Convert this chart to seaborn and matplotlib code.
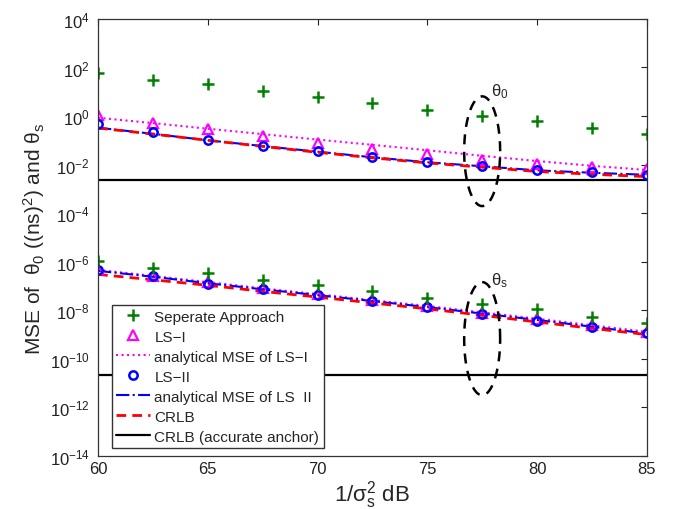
import numpy as np
import pandas as pd
import matplotlib
matplotlib.use("Agg")
import matplotlib.pyplot as plt
import seaborn as sns

# SNR axis (1/sigma_s^2 in dB)
snr = [60, 62.5, 65, 67.5, 70, 72.5, 75, 77.5, 80, 82.5, 85]

# theta_0 curves (ns^2)
sep_t0 = [60, 31, 20, 10.5, 6.2, 3.4, 1.85, 1.05, 0.63, 0.33, 0.19]
ls1_t0 = [1.15, 0.52, 0.28, 0.145, 0.076, 0.045, 0.028, 0.016, 0.011, 0.0083, 0.0063]
ls1_ana_t0 = [0.85, 0.51, 0.30, 0.18, 0.107, 0.065, 0.039, 0.023, 0.014, 0.0089, 0.006]
ls2_t0 = [0.49, 0.21, 0.107, 0.061, 0.036, 0.021, 0.0126, 0.0087, 0.0058, 0.0049, 0.0039]
ls2_ana_t0 = [0.33, 0.185, 0.10, 0.058, 0.034, 0.020, 0.0125, 0.0085, 0.0058, 0.0046, 0.0038]
crlb_t0 = [0.32, 0.18, 0.10, 0.056, 0.032, 0.019, 0.0117, 0.0078, 0.0052, 0.0040, 0.0032]
crlb_anchor_t0 = 2.3e-3

# theta_s curves
sep_ts = [1.07e-6, 5.6e-7, 3.5e-7, 1.8e-7, 1.07e-7, 6e-8, 3.2e-8, 1.9e-8, 1.1e-8, 5.5e-9, 3.1e-9]
ls1_ts = [4.8e-7, 2.7e-7, 1.5e-7, 8e-8, 4.6e-8, 2.7e-8, 1.5e-8, 8e-9, 4.2e-9, 2.4e-9, 1.3e-9]
ls1_ana_ts = [4.6e-7, 2.6e-7, 1.45e-7, 8e-8, 4.6e-8, 2.6e-8, 1.5e-8, 8.2e-9, 4.5e-9, 2.4e-9, 1.3e-9]
ls2_ts = [4.4e-7, 2.5e-7, 1.2e-7, 7.2e-8, 4.3e-8, 2.5e-8, 1.35e-8, 7e-9, 3.6e-9, 2.1e-9, 1.13e-9]
ls2_ana_ts = [4.2e-7, 2.4e-7, 1.3e-7, 7.3e-8, 4.2e-8, 2.4e-8, 1.35e-8, 7.3e-9, 4e-9, 2.1e-9, 1.1e-9]
crlb_ts = [3e-7, 1.8e-7, 1.07e-7, 6e-8, 3.5e-8, 2e-8, 1.15e-8, 6.2e-9, 3.3e-9, 1.8e-9, 1e-9]
crlb_anchor_ts = 2.2e-11

sns.set_style("white")
plt.rcParams["font.family"] = ["Liberation Sans", "DejaVu Sans"]
plt.rcParams["mathtext.fontset"] = "custom"
plt.rcParams["mathtext.rm"] = "Liberation Sans"
plt.rcParams["mathtext.it"] = "Liberation Sans:italic"
plt.rcParams["mathtext.sf"] = "Liberation Sans"

fig = plt.figure(figsize=(6.78, 5.10), dpi=100)
ax = fig.add_axes([0.1445, 0.104, 0.8095, 0.857])

styles = {
    "sep": dict(marker="+", linestyle="", color="green", mec="green", markersize=8, mew=1.8),
    "ls1": dict(marker="^", linestyle="", color="magenta", mfc="none", mec="magenta", markersize=7, mew=1.6),
    "ls1_ana": dict(linestyle=":", color="magenta", lw=1.5),
    "ls2": dict(marker="o", linestyle="", color="blue", mfc="none", mec="blue", markersize=6, mew=1.8),
    "ls2_ana": dict(linestyle="-.", color="blue", lw=1.5),
    "crlb": dict(linestyle=(0, (3.5, 2.2)), color="red", lw=2),
    "anchor": dict(linestyle="-", color="black", lw=1.6),
}
labels = {
    "sep": "Seperate Approach",
    "ls1": "LS\u2212I",
    "ls1_ana": "analytical MSE of LS\u2212I",
    "ls2": "LS\u2212II",
    "ls2_ana": "analytical MSE of LS  II",
    "crlb": "CRLB",
    "anchor": "CRLB (accurate anchor)",
}

groups = [
    dict(sep=sep_t0, ls1=ls1_t0, ls1_ana=ls1_ana_t0, ls2=ls2_t0, ls2_ana=ls2_ana_t0,
         crlb=crlb_t0, anchor=[crlb_anchor_t0] * len(snr)),
    dict(sep=sep_ts, ls1=ls1_ts, ls1_ana=ls1_ana_ts, ls2=ls2_ts, ls2_ana=ls2_ana_ts,
         crlb=crlb_ts, anchor=[crlb_anchor_ts] * len(snr)),
]

order = ["anchor", "ls1_ana", "ls2_ana", "crlb", "ls1", "ls2", "sep"]
handles = {}
for gi, g in enumerate(groups):
    for key in order:
        n_before = len(ax.lines)
        sns.lineplot(x=snr, y=g[key], ax=ax, errorbar=None, legend=False, **styles[key])
        if gi == 0:
            handles[key] = ax.lines[n_before]

# dashed ellipses around each group
t = np.linspace(0, 2 * np.pi, 200)
for cy, hh in [(-1.45, 2.26), (-9.17, 2.33)]:
    ax.plot(77.5 + 0.82 * np.cos(t), 10 ** (cy + hh * np.sin(t)),
            color="black", lw=1.8, linestyle=(0, (4, 3)))
ax.text(77.9, 10 ** 0.85, r"$\mathrm{\theta_0}$", fontsize=12)
ax.text(77.9, 10 ** -6.95, r"$\mathrm{\theta_s}$", fontsize=12)

ax.set_yscale("log")
ax.set_xlim(60, 85)
ax.set_ylim(1e-14, 1e4)
ax.set_xticks([60, 65, 70, 75, 80, 85])
ax.set_yticks([10.0 ** k for k in range(-14, 5, 2)])
ax.yaxis.set_minor_locator(matplotlib.ticker.NullLocator())
ax.tick_params(direction="in", top=True, right=True, length=4, width=0.8,
               labelsize=12, colors="#222222")
ax.tick_params(axis="y", pad=6)
for s in ax.spines.values():
    s.set_color("#333333")
    s.set_linewidth(0.9)

ax.set_xlabel(r"1/$\mathrm{\sigma_s^2}$ dB", fontsize=16, labelpad=2)
ax.set_ylabel(r"MSE of  $\mathrm{\theta_0}$ ((ns)$^2$) and $\mathrm{\theta_s}$", fontsize=15,
              labelpad=2)

leg_keys = ["sep", "ls1", "ls1_ana", "ls2", "ls2_ana", "crlb", "anchor"]
ax.legend([handles[k] for k in leg_keys], [labels[k] for k in leg_keys],
          loc="lower left", bbox_to_anchor=(0.025, 0.018), borderaxespad=0,
          fontsize=11, handlelength=2.2, handletextpad=0.3, labelspacing=0.39,
          fancybox=False, edgecolor="#333333", framealpha=1, borderpad=0.3)

fig.savefig("out.png", dpi=100)
